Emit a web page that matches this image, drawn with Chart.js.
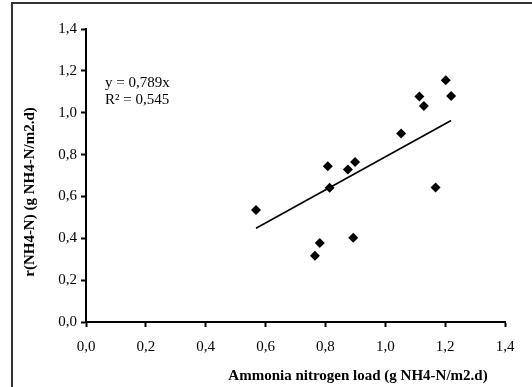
<!DOCTYPE html>
<html>
<head>
<meta charset="utf-8">
<script src="https://cdn.jsdelivr.net/npm/chart.js@4"></script>
<style>
  html, body { margin: 0; padding: 0; background: #fff; }
  #wrap { width: 532px; height: 387px; position: relative; }
</style>
</head>
<body>
<div id="wrap"><canvas id="chart" width="532" height="387"></canvas></div>
<script>
// data
var loadX = [0.568, 0.808, 0.814, 0.875, 0.899, 0.781, 0.765, 0.893, 1.053, 1.114, 1.129, 1.168, 1.202, 1.220];
var rateY = [0.535, 0.744, 0.641, 0.729, 0.765, 0.378, 0.317, 0.402, 0.901, 1.077, 1.032, 0.643, 1.155, 1.080];
var slope = 0.789;
var eqLines = ['y = 0,789x', 'R\u00b2 = 0,545'];
var xTitle = 'Ammonia nitrogen load (g NH4-N/m2.d)';
var yTitle = 'r(NH4-N) (g NH4-N/m2.d)';

var points = loadX.map(function (x, i) { return { x: x, y: rateY[i] }; });
var xMin = Math.min.apply(null, loadX);
var xMax = Math.max.apply(null, loadX);
var trend = [{ x: xMin, y: slope * xMin }, { x: xMax, y: slope * xMax }];

var FONT = '"Liberation Serif", "Times New Roman", serif';

function commaTick(v) { return v.toFixed(1).replace('.', ','); }

// frame, axis titles and equation text
var decor = {
    id: 'decor',
    afterDraw: function (chart) {
        var c = chart.ctx;
        c.save();
        c.strokeStyle = '#333';
        c.lineWidth = 2;
        c.beginPath();
        c.moveTo(12, 387);
        c.lineTo(12, 3);
        c.lineTo(532, 3);
        c.stroke();

        c.fillStyle = '#000';
        c.font = 'bold 15px ' + FONT;
        c.textAlign = 'center';
        c.textBaseline = 'middle';
        c.fillText(xTitle, 358, 376);

        c.translate(30, 192);
        c.rotate(-Math.PI / 2);
        c.fillText(yTitle, 0, 0);
        c.restore();

        c.save();
        c.fillStyle = '#000';
        c.font = '15px ' + FONT;
        c.textAlign = 'left';
        c.textBaseline = 'middle';
        c.fillText(eqLines[0], 105, 83);
        c.fillText(eqLines[1], 105, 100);
        c.restore();
    }
};

var axisCommon = {
    type: 'linear',
    min: 0,
    max: 1.4,
    grid: { drawOnChartArea: false, drawTicks: true, tickLength: 5, tickColor: '#000', tickWidth: 2 },
    border: { color: '#000', width: 2 },
    ticks: {
        stepSize: 0.2,
        color: '#000',
        font: { family: FONT, size: 15 },
        callback: function (v) { return commaTick(v); }
    }
};

new Chart(document.getElementById('chart'), {
    type: 'scatter',
    data: {
        datasets: [{
            data: points,
            pointStyle: 'rectRot',
            pointRadius: 5,
            backgroundColor: '#000',
            borderColor: '#000',
            borderWidth: 0
        }, {
            type: 'line',
            data: trend,
            borderColor: '#000',
            borderWidth: 1.6,
            pointRadius: 0,
            fill: false
        }]
    },
    options: {
        responsive: false,
        animation: false,
        layout: { padding: { left: 0, top: 29, right: 27, bottom: 0 } },
        plugins: { legend: { display: false }, tooltip: { enabled: false } },
        scales: {
            x: Object.assign({}, axisCommon, {
                position: 'bottom',
                ticks: Object.assign({}, axisCommon.ticks, { padding: 11, maxRotation: 0 }),
                afterFit: function (s) { s.height = 65; }
            }),
            y: Object.assign({}, axisCommon, {
                position: 'left',
                ticks: Object.assign({}, axisCommon.ticks, { padding: 4 }),
                afterFit: function (s) { s.width = 86; }
            })
        }
    },
    plugins: [decor]
});
</script>
</body>
</html>
